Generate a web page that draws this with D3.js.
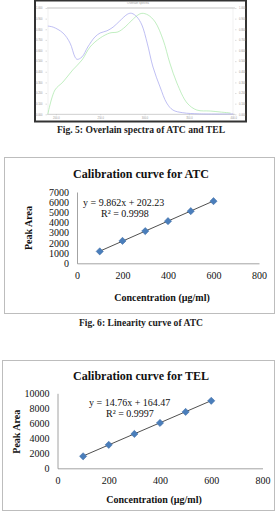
<!DOCTYPE html>
<html>
<head>
<meta charset="utf-8">
<script src="https://cdn.jsdelivr.net/npm/d3@7"></script>
<style>
  body { margin: 0; background: #fff; }
  svg { display: block; }
</style>
</head>
<body>
<div id="chart"></div>
<script>
// ---- spectra (Fig. 5) ----
const atcWl = [191, 197, 208, 216, 221.5, 224, 229.5, 236, 244, 250, 257.5, 264.5, 272, 281, 285.5, 291.5, 297, 303, 309.5, 317.5, 325, 332, 343, 362, 400];
const atcAbs = [0.83, 0.82, 0.765, 0.67, 0.54, 0.517, 0.54, 0.633, 0.727, 0.765, 0.785, 0.82, 0.878, 0.943, 0.95, 0.915, 0.84, 0.67, 0.445, 0.257, 0.106, 0.04, 0.015, 0.004, 0.003];
const telWl = [191, 199, 208, 219, 229.5, 238.5, 250, 261, 270, 278, 286, 292.5, 297, 304, 312, 321, 328.5, 336.5, 348, 359, 374, 385, 397];
const telAbs = [0.003, 0.229, 0.304, 0.417, 0.511, 0.633, 0.718, 0.765, 0.775, 0.821, 0.887, 0.934, 0.95, 0.934, 0.868, 0.699, 0.483, 0.294, 0.106, 0.04, 0.031, 0.022, 0.012];
const specXTicks = [200, 250, 300, 350, 400];
const specYTicks = [0, 0.1, 0.2, 0.3, 0.4, 0.5, 0.6, 0.7, 0.8, 0.9, 1.0];

// ---- calibration curves (Fig. 6 / 7) ----
const conc = [100, 200, 300, 400, 500, 600];
const atcArea = [1170, 2200, 3160, 4140, 5120, 6100];
const telArea = [1600, 3130, 4580, 6050, 7520, 9000];
const concTicks = [0, 200, 400, 600, 800];
const atcTicks = [0, 1000, 2000, 3000, 4000, 5000, 6000, 7000];
const telTicks = [0, 2000, 4000, 6000, 8000, 10000];
const atcFit = { slope: 9.862, icpt: 202.23, text: 'y = 9.862x + 202.23', r2: 'R² = 0.9998' };
const telFit = { slope: 14.76, icpt: 164.47, text: 'y = 14.76x + 164.47', r2: 'R² = 0.9997' };

const SERIF = '"Liberation Serif", "Times New Roman", serif';
const W = 277, H = 514;
const svg = d3.select('#chart').append('svg').attr('width', W).attr('height', H);

function serifText(sel, size, bold) {
  return sel
    .style('font-family', SERIF)
    .style('font-size', size + 'px')
    .style('font-weight', bold ? 'bold' : 'normal');
}

// ================= Fig. 5 =================
function spectra(g) {
  g.append('rect')
    .attr('x', 35).attr('y', 0.5).attr('width', 211).attr('height', 121)
    .attr('fill', '#fff').attr('stroke', '#333').attr('stroke-width', 2);

  const x = d3.scaleLinear().domain([190, 402]).range([47, 235]);
  const y = d3.scaleLinear().domain([0, 1]).range([114.3, 8]);

  g.append('text')
    .attr('x', 138).attr('y', 4).attr('text-anchor', 'middle')
    .attr('font-size', 3).attr('fill', '#999').attr('font-family', 'sans-serif')
    .text('Overlain spectra');

  // frame
  g.append('rect')
    .attr('x', 48).attr('y', y(1)).attr('width', 185).attr('height', y(0) - y(1))
    .attr('fill', 'none').attr('stroke', '#e8e8e8').attr('stroke-width', 0.6);
  g.append('line')
    .attr('x1', 47).attr('x2', 235).attr('y1', y(1)).attr('y2', y(1))
    .attr('stroke', '#bbb').attr('stroke-width', 0.8);
  g.append('line')
    .attr('x1', 47).attr('x2', 235).attr('y1', y(0)).attr('y2', y(0))
    .attr('stroke', '#bbb').attr('stroke-width', 0.6);

  const fmt = d3.format('.3f');
  const tidy = (a) => {
    a.select('.domain').remove();
    a.selectAll('line').attr('stroke', '#aaa').attr('stroke-width', 0.4);
    a.selectAll('text').attr('font-size', 2.6).attr('fill', '#999').attr('font-family', 'sans-serif');
  };

  g.append('g')
    .attr('transform', 'translate(47,0)')
    .call(d3.axisLeft(y).tickValues(specYTicks).tickSize(1.5).tickPadding(3).tickFormat(fmt))
    .call(tidy);

  g.append('g')
    .attr('transform', 'translate(235,0)')
    .call(d3.axisRight(y).tickValues(specYTicks).tickSize(1.5).tickPadding(2.5).tickFormat(fmt))
    .call(tidy);

  g.append('g')
    .attr('transform', `translate(0,${y(0)})`)
    .call(d3.axisBottom(x).tickValues(specXTicks).tickSize(1).tickPadding(2).tickFormat(d3.format('.1f')))
    .call(tidy);

  const line = d3.line()
    .x((d) => x(d[0]))
    .y((d) => y(d[1]))
    .curve(d3.curveCatmullRom.alpha(0.5));

  g.append('path')
    .datum(d3.zip(telWl, telAbs))
    .attr('fill', 'none').attr('stroke', '#a6e6a6').attr('stroke-width', 0.7)
    .attr('d', line);
  g.append('path')
    .datum(d3.zip(atcWl, atcAbs))
    .attr('fill', 'none').attr('stroke', '#a4a4ee').attr('stroke-width', 0.7)
    .attr('d', line);

  g.append('text')
    .attr('x', 141).attr('y', 132.5).attr('text-anchor', 'middle')
    .attr('fill', '#222')
    .call(serifText, 9.6, true)
    .text('Fig. 5: Overlain spectra of ATC and TEL');
}

// ================= calibration chart =================
function calib(g, opt) {
  g.append('rect')
    .attr('x', opt.box[0]).attr('y', opt.box[1]).attr('width', opt.box[2]).attr('height', opt.box[3])
    .attr('fill', '#fff').attr('stroke', '#bdbdbd').attr('stroke-width', 1);

  g.append('text')
    .attr('x', 141).attr('y', opt.titleY).attr('text-anchor', 'middle')
    .attr('fill', '#111')
    .call(serifText, 12, true)
    .text(opt.title);

  const x = d3.scaleLinear().domain([0, 800]).range(opt.xr);
  const y = d3.scaleLinear().domain([0, opt.yTicks[opt.yTicks.length - 1]]).range(opt.yr);

  const yAx = g.append('g')
    .attr('transform', `translate(${opt.xr[0]},0)`)
    .call(d3.axisLeft(y).tickValues(opt.yTicks).tickSize(0).tickPadding(opt.yPad).tickFormat(d3.format('d')));
  const xAx = g.append('g')
    .attr('transform', `translate(0,${opt.yr[0]})`)
    .call(d3.axisBottom(x).tickValues(concTicks).tickSize(0).tickPadding(opt.xPad).tickFormat(d3.format('d')));
  [yAx, xAx].forEach((a) => {
    a.attr('font-family', null).attr('font-size', null);
    a.select('.domain').attr('stroke', '#8c8c8c').attr('stroke-width', 0.8);
    a.selectAll('text').attr('fill', '#111').call(serifText, 10, false);
  });

  // trendline over the data range
  const x0 = d3.min(conc), x1 = d3.max(conc);
  g.append('line')
    .attr('x1', x(x0)).attr('y1', y(opt.fit.slope * x0 + opt.fit.icpt))
    .attr('x2', x(x1)).attr('y2', y(opt.fit.slope * x1 + opt.fit.icpt))
    .attr('stroke', '#222').attr('stroke-width', 0.8);

  g.selectAll('.pt')
    .data(d3.zip(conc, opt.area))
    .enter()
    .append('path')
    .attr('class', 'pt')
    .attr('d', d3.symbol(d3.symbolSquare, 26)())
    .attr('transform', (d) => `translate(${x(d[0])},${y(d[1])}) rotate(45)`)
    .attr('fill', '#4a7ebb').attr('stroke', '#3c6aa3').attr('stroke-width', 0.5);

  g.append('text')
    .attr('x', opt.eq[0]).attr('y', opt.eq[1])
    .attr('fill', '#111')
    .call(serifText, 10, false)
    .text(opt.fit.text);
  g.append('text')
    .attr('x', opt.eq[2]).attr('y', opt.eq[3])
    .attr('fill', '#111')
    .call(serifText, 10, false)
    .text(opt.fit.r2);

  g.append('text')
    .attr('transform', `translate(${opt.yLab[0]},${opt.yLab[1]}) rotate(-90)`)
    .attr('text-anchor', 'middle').attr('dy', '0.35em')
    .attr('fill', '#111')
    .call(serifText, 10, true)
    .text('Peak Area');
  g.append('text')
    .attr('x', opt.xLab[0]).attr('y', opt.xLab[1])
    .attr('text-anchor', 'middle').attr('dy', '0.35em')
    .attr('fill', '#111')
    .call(serifText, 10, true)
    .text('Concentration (µg/ml)');
}

spectra(svg.append('g'));

calib(svg.append('g'), {
  box: [4.5, 157.5, 270, 156],
  title: 'Calibration curve for ATC',
  titleY: 178,
  xr: [77, 259],
  yr: [263.3, 192],
  yTicks: atcTicks,
  yPad: 8,
  xPad: 9,
  area: atcArea,
  fit: atcFit,
  eq: [83, 205.5, 101, 216.5],
  yLab: [28, 228],
  xLab: [162, 297]
});

svg.append('text')
  .attr('x', 141).attr('y', 326).attr('text-anchor', 'middle')
  .attr('fill', '#222')
  .call(serifText, 9.6, true)
  .text('Fig. 6: Linearity curve of ATC');

calib(svg.append('g'), {
  box: [2.5, 360.5, 272, 150],
  title: 'Calibration curve for TEL',
  titleY: 380,
  xr: [57.5, 262.5],
  yr: [468.3, 393.3],
  yTicks: telTicks,
  yPad: 8,
  xPad: 9,
  area: telArea,
  fit: telFit,
  eq: [89, 406, 106, 416.5],
  yLab: [16, 431.7],
  xLab: [154, 499]
});
</script>
</body>
</html>
